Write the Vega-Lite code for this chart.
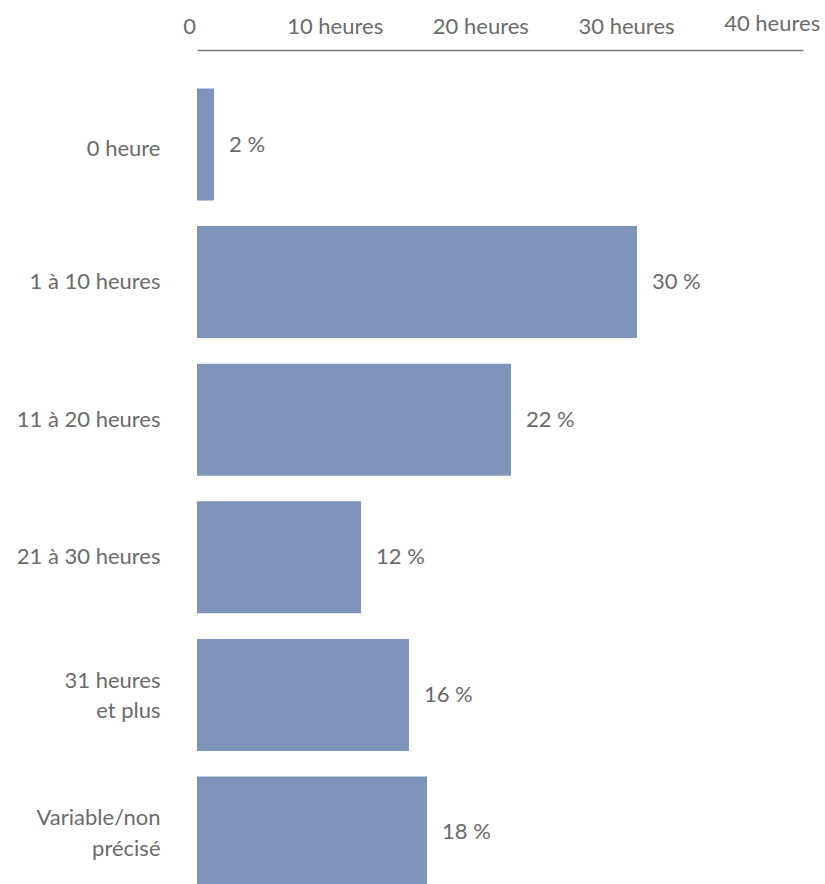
{
  "$schema": "https://vega.github.io/schema/vega-lite/v6.json",
  "autosize": "none",
  "padding": {"left": 197, "top": 50, "right": 22, "bottom": 0},
  "width": 606,
  "height": 877,
  "background": "white",
  "config": {
    "view": {"stroke": null},
    "font": "Lato"
  },
  "data": {
    "values": [
      {"categorie": "0 heure", "valeur": 1.17, "etiquette": "2 %"},
      {"categorie": "1 à 10 heures", "valeur": 30.2, "etiquette": "30 %"},
      {"categorie": "11 à 20 heures", "valeur": 21.55, "etiquette": "22 %"},
      {"categorie": "21 à 30 heures", "valeur": 11.26, "etiquette": "12 %"},
      {"categorie": "31 heures|et plus", "valeur": 14.55, "etiquette": "16 %"},
      {"categorie": "Variable/non|précisé", "valeur": 15.79, "etiquette": "18 %"}
    ]
  },
  "encoding": {
    "y": {
      "field": "categorie",
      "type": "nominal",
      "sort": null,
      "title": null,
      "scale": {"paddingInner": 0.186, "paddingOuter": 0.28},
      "axis": {
        "orient": "left",
        "domain": false,
        "ticks": false,
        "tickSize": 0,
        "labelPadding": 37,
        "labelFontSize": 22,
        "labelColor": "#6b6b6b",
        "labelFont": "Lato",
        "labelLineHeight": 30.5,
        "labelOffset": {
          "condition": [
            {"test": "indexof(datum.value, '|') >= 0", "value": -14},
            {"test": "datum.value == '0 heure'", "value": 4}
          ],
          "value": 0
        },
        "labelExpr": "split(datum.label, '|')"
      }
    },
    "x": {
      "field": "valeur",
      "type": "quantitative",
      "title": null,
      "scale": {"domain": [0, 41.6], "nice": false, "zero": true},
      "axis": {
        "orient": "top",
        "values": [0, 10, 20, 30, 40],
        "labelExpr": "datum.value == 0 ? '0' : datum.value + ' heures'",
        "grid": false,
        "ticks": false,
        "tickSize": 0,
        "domain": true,
        "domainColor": "#7a7a7a",
        "domainWidth": 1.5,
        "labelPadding": {
          "condition": {"test": "datum.value == 40", "value": 20},
          "value": 17
        },
        "labelBaseline": "alphabetic",
        "labelOffset": -8,
        "labelFlush": false,
        "labelOverlap": false,
        "labelFontSize": 22,
        "labelColor": "#6b6b6b",
        "labelFont": "Lato"
      }
    }
  },
  "layer": [
    {
      "mark": {"type": "bar", "color": "#7f93bb"}
    },
    {
      "mark": {
        "type": "text",
        "align": "left",
        "baseline": "middle",
        "dx": 15,
        "fontSize": 22,
        "color": "#6b6b6b",
        "font": "Lato"
      },
      "encoding": {
        "text": {"field": "etiquette"}
      }
    }
  ]
}
